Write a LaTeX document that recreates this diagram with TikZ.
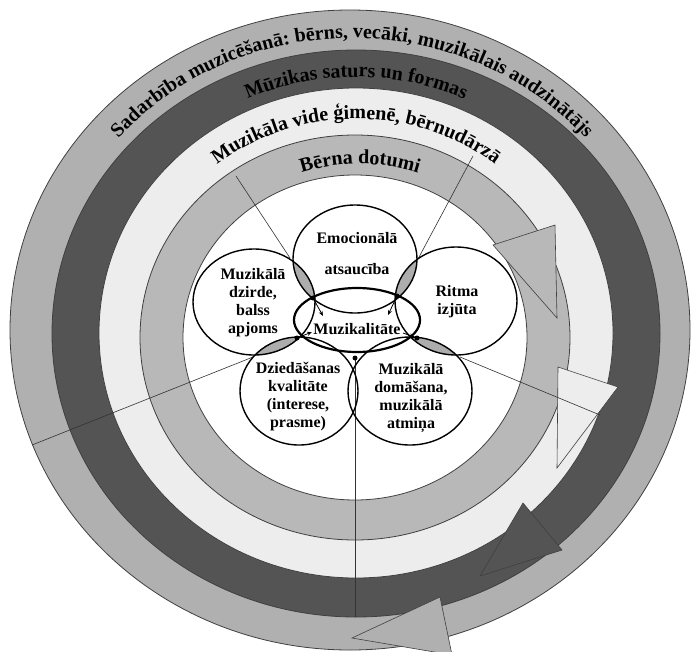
\documentclass[tikz,border=0pt]{standalone}
\usepackage{fontspec}
\setmainfont{Liberation Serif}
\usetikzlibrary{decorations.text, arrows.meta}
\begin{document}
\begin{tikzpicture}[x=1pt,y=-1pt,
  ring/.style={draw=black!75, line width=0.8pt},
  headshape/.style={draw=black!75, line width=0.6pt, line join=miter},
  divider/.style={draw=black!80, line width=0.6pt},
  venn/.style={draw=black, line width=1.4pt},
  lensfill/.style={fill=black!32},
  lbl/.style={font=\bfseries\fontsize{16}{18}\selectfont, align=center, inner sep=0pt},
  ipoint/.style={circle, fill=black, inner sep=0pt, minimum size=5pt},
  smallarrow/.style={-{Stealth[length=5pt,width=4pt]}, line width=0.8pt},
  bandtext/.style={decorate, decoration={text along path, text align=center, text={#1}}},
]
\useasboundingbox (0,0) rectangle (693,651);
\fill[white] (0,0) rectangle (693,651);

% concentric bands
\path[ring, fill=black!31] (350,330) ellipse[x radius=340, y radius=320];
\path[ring, fill=black!67] (356,333.5) ellipse[x radius=304, y radius=283.5];
\path[ring, fill=black!7] (356,333) ellipse[x radius=257, y radius=245];
\path[ring, fill=black!28] (355,337.5) ellipse[x radius=215, y radius=202.5];
\path[ring, fill=white] (355,337.5) ellipse[x radius=172, y radius=162.5];

% arrow heads of the circular bands
\path[headshape, fill=black!28] (493,245) -- (555,225) -- (557,318) -- cycle;
\path[headshape, fill=black!7] (558,367) -- (618,387) -- (557,468) -- cycle;
\path[headshape, fill=black!67] (523,503) -- (562,550) -- (480,576) -- cycle;
\path[headshape, fill=black!31] (440,597) -- (452,655) -- (352,638) -- cycle;

% texts along the bands
\path[bandtext={|\bfseries\fontsize{20}{20}\selectfont|Sadarbība muzicēšanā: bērns, vecāki, muzikālais audzinātājs}]
  (42,331) arc[start angle=180, end angle=360, x radius=310, y radius=293];
\path[bandtext={|\bfseries\fontsize{20}{20}\selectfont|Mūzikas saturs un formas}]
  (90,333) arc[start angle=180, end angle=360, x radius=266, y radius=256];
\path[bandtext={|\bfseries\fontsize{20}{20}\selectfont|Muzikāla vide ģimenē, bērnudārzā}]
  (130,334) arc[start angle=180, end angle=360, x radius=226, y radius=215];
\path[bandtext={|\bfseries\fontsize{20}{20}\selectfont|Bērna dotumi}]
  (178,336) arc[start angle=180, end angle=360, x radius=182, y radius=172];

% divider lines
\coordinate (l1a) at (236,176); \coordinate (l1b) at (290,258);
\coordinate (l2a) at (473,156); \coordinate (l2b) at (418,259);
\coordinate (l3a) at (460,357); \coordinate (l3b) at (600,415);
\coordinate (l4a) at (355,358); \coordinate (l4b) at (355,617);
\coordinate (l5a) at (253,357); \coordinate (l5b) at (32,445);
\draw[divider] (l1a) -- (l1b);
\draw[divider] (l2a) -- (l2b);
\draw[divider] (l3a) -- (l3b);
\draw[divider] (l4a) -- (l4b);
\draw[divider] (l5a) -- (l5b);

% lens intersections
\begin{scope}
  \clip (355,259) ellipse[x radius=62, y radius=54];
  \fill[lensfill] (254,302) ellipse[x radius=61, y radius=53];
  \fill[lensfill] (456,301) ellipse[x radius=61, y radius=54];
\end{scope}
\begin{scope}
  \clip (299,391) ellipse[x radius=59, y radius=54];
  \fill[lensfill] (254,302) ellipse[x radius=61, y radius=53];
\end{scope}
\begin{scope}
  \clip (410,391) ellipse[x radius=62, y radius=54];
  \fill[lensfill] (456,301) ellipse[x radius=61, y radius=54];
\end{scope}

% venn circles
\draw[venn] (355,259) ellipse[x radius=62, y radius=54];
\draw[venn] (254,302) ellipse[x radius=61, y radius=53];
\draw[venn] (456,301) ellipse[x radius=61, y radius=54];
\draw[venn] (299,391) ellipse[x radius=59, y radius=54];
\draw[venn] (410,391) ellipse[x radius=62, y radius=54];
\draw[draw=black, line width=2.2pt] (357,320) ellipse[x radius=63, y radius=32];

% intersection points and small arrows
\node[ipoint] (p1) at (313,298) {};
\node[ipoint] (p2) at (397,296) {};
\node[ipoint] (p3) at (297,338) {};
\node[ipoint] (p4) at (417,338) {};
\node[ipoint] (p5) at (355,358) {};
\coordinate (q1) at (323,316);
\coordinate (q2) at (388,315);
\coordinate (q3) at (312,332);
\coordinate (q4) at (403,333);
\draw[smallarrow] (p1) -- (q1);
\draw[smallarrow] (p2) -- (q2);
\draw[smallarrow] (p3) -- (q3);
\draw[smallarrow] (q4) -- (p4);

% labels
\node[lbl] (emo) at (357,254) {Emocionālā\\[13pt]atsaucība};
\node[lbl] (dzi) at (253,303) {Muzikālā\\dzirde,\\balss\\apjoms};
\node[lbl] (rit) at (457,302) {Ritma\\izjūta};
\node[lbl] (muz) at (357,329) {Muzikalitāte};
\node[lbl] (dzk) at (298,397) {Dziedāšanas\\kvalitāte\\(interese,\\prasme)};
\node[lbl] (dom) at (411,398) {Muzikālā\\domāšana,\\muzikālā\\atmiņa};
\end{tikzpicture}
\end{document}
